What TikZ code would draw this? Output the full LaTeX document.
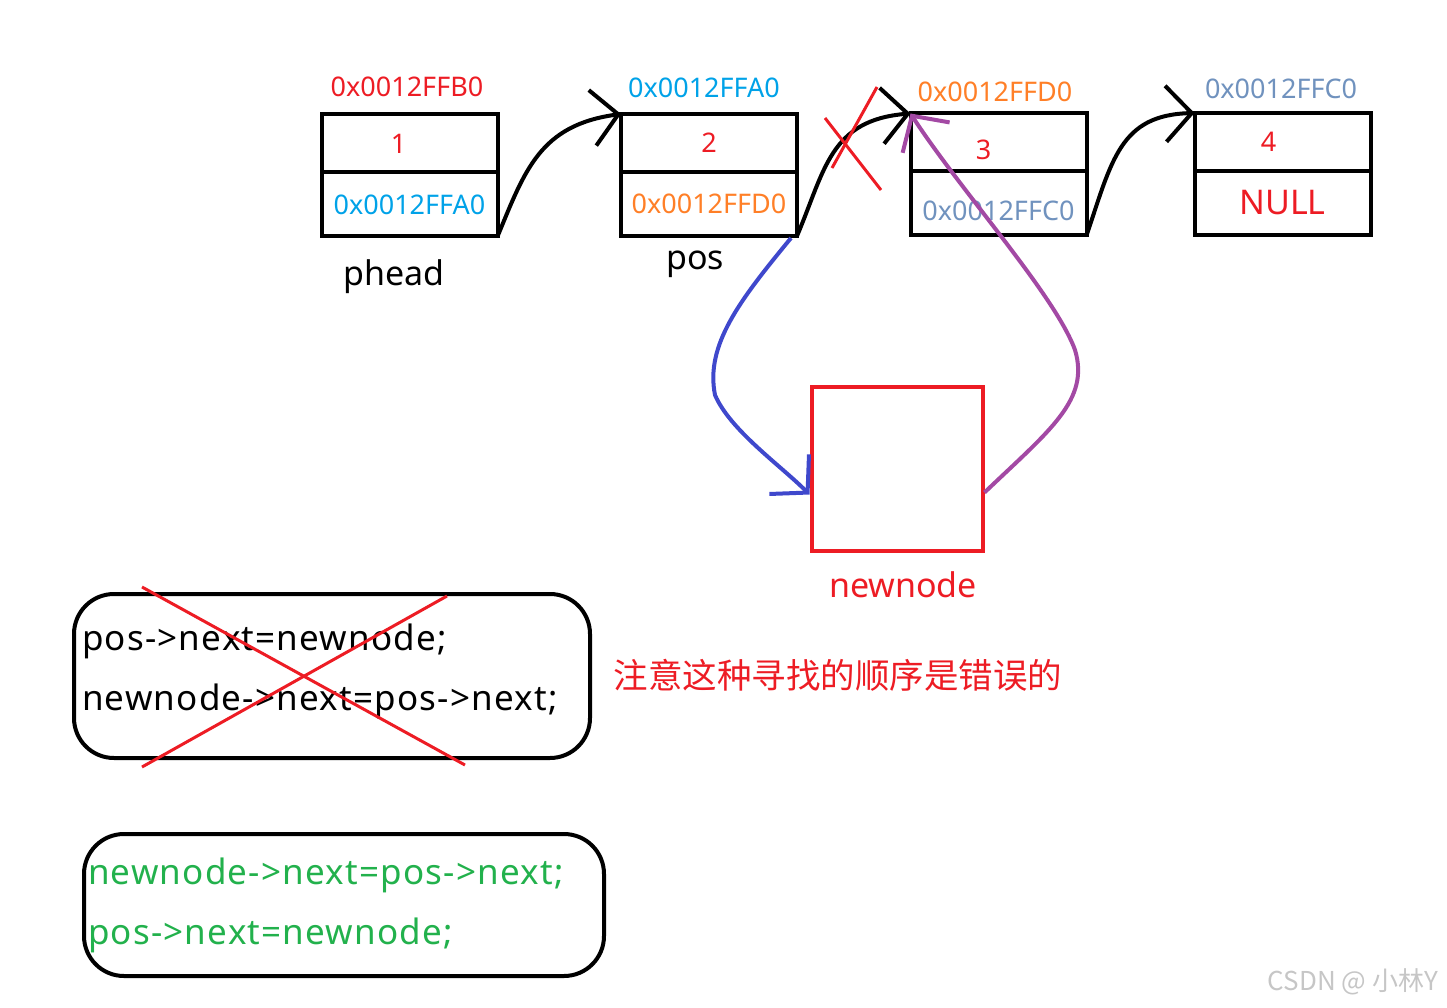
\documentclass[tikz,border=0pt]{standalone}
\usepackage{fontspec}
\setmainfont{Noto Sans}
\newfontfamily\cjk{Noto Sans CJK SC}
\newfontfamily\codefont[LetterSpace=3.5]{Noto Sans}
\usetikzlibrary{positioning, arrows.meta}
\definecolor{pred}{RGB}{237,28,36}
\definecolor{pcyan}{RGB}{0,162,232}
\definecolor{porange}{RGB}{255,127,39}
\definecolor{psteel}{RGB}{112,146,190}
\definecolor{pgreen}{RGB}{34,177,76}
\definecolor{pblue}{RGB}{63,72,204}
\definecolor{ppurple}{RGB}{163,73,164}

\begin{document}
\begin{tikzpicture}[x=1pt, y=-1pt, line width=4pt, >={Straight Barb[length=26pt, width=56pt]}, every node/.style={font=\fontsize{27}{32}\selectfont, inner sep=0pt}]
\tikzset{
  datacell/.style={draw, minimum width=176pt, minimum height=58pt, outer sep=0pt},
  nextcell/.style={draw, minimum width=176pt, minimum height=64pt, outer sep=0pt},
  biglabel/.style={font=\fontsize{34}{40}\selectfont},
  codebox/.style={draw, rounded corners=40pt},
  codetext/.style={align=left, font=\codefont\fontsize{35}{60}\selectfont},
  cross/.style={pred, line width=3pt},
}
\useasboundingbox (0,0) rectangle (1447,1008);
% list nodes
\node[datacell, text=pred] (d1) at (409.5,143.5) {\hspace*{-22pt}1};
\node[nextcell, below=0pt of d1, text=pcyan] (p1) {0x0012FFA0};
\node[datacell, text=pred] (d2) at (709,143) {2};
\node[nextcell, below=0pt of d2, text=porange] (p2) {0x0012FFD0};
\node[datacell, text=pred] (d3) at (998.5,142.5) {\hspace*{-30pt}\raisebox{-7pt}[\height][\depth]{3}};
\node[nextcell, below=0pt of d3, text=psteel] (p3) {\raisebox{-7pt}[\height][\depth]{0x0012FFC0}};
\node[datacell, text=pred] (d4) at (1282.5,142) {\hspace*{-28pt}4};
\node[nextcell, below=0pt of d4, text=pred, biglabel] (p4) {NULL};
% addresses
\node[text=pred] (a1) at (407,87) {0x0012FFB0};
\node[text=pcyan] (a2) at (704,88) {0x0012FFA0};
\node[text=porange] (a3) at (995,92) {0x0012FFD0};
\node[text=psteel] (a4) at (1281,89) {0x0012FFC0};
\node[biglabel] (lhead) at (394,277) {phead};
\node[biglabel] (lpos) at (695,264) {pos};
% links
\draw[->] (p1.south east) .. controls (525,170) and (540,125) .. (d2.north west);
\draw[->] (p2.south east) .. controls (825,170) and (830,120) .. (d3.north west);
\draw[->] (p3.south east) .. controls (1112,160) and (1120,115) .. (d4.north west);
\draw[cross] (825,118) -- (881,190);
\draw[cross] (877,87) -- (832,168);
% new node
\node[draw=pred, minimum width=171pt, minimum height=164pt] (nn) at (897,468.5) {};
\node[text=pred, biglabel] (lnew) at (903,585) {newnode};
\draw[->, pblue] ([xshift=-6pt,yshift=-2pt]p2.south east) .. controls (740,300) and (705,345) .. (715,395) .. controls (730,430) and (780,465) .. ([yshift=-26pt]nn.west);
\draw[->, ppurple] ([yshift=-24pt]nn.east) .. controls (1050,430) and (1090,400) .. (1075,350) .. controls (1055,295) and (960,190) .. (d3.north west);
% code
\node[codebox, minimum width=516pt, minimum height=164pt] (bad) at (332,676) {};
\node[codetext, anchor=west] (badtext) at ([xshift=8pt,yshift=5pt]bad.west) {pos->next=newnode;\\newnode->next=pos->next;};
\draw[cross] (142,587) -- (465,765);
\draw[cross] (447,596) -- (142,767);
\node[text=pred, font=\cjk\fontsize{34.5}{40}\selectfont] (note) at (838,675) {注意这种寻找的顺序是错误的};
\node[codebox, minimum width=520pt, minimum height=142pt] (good) at (344,905) {};
\node[codetext, text=pgreen, anchor=west] (goodtext) at ([xshift=4pt]good.west) {newnode->next=pos->next;\\pos->next=newnode;};
\node[text=gray!45, font=\cjk\fontsize{26}{30}\selectfont] (mark) at (1353,982) {CSDN @ 小林Y};
\end{tikzpicture}
\end{document}
